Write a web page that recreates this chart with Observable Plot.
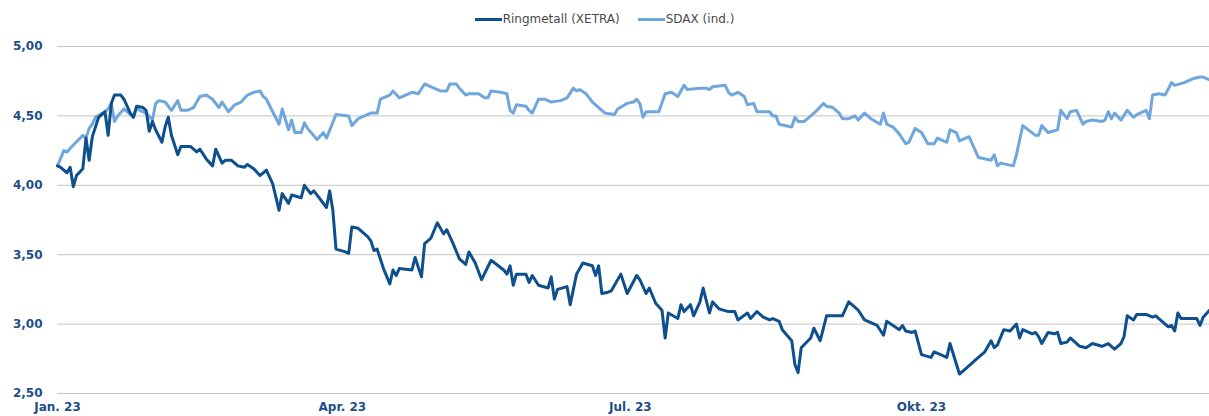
<!DOCTYPE html>
<html><head><meta charset="utf-8">
<script src="https://cdn.jsdelivr.net/npm/d3@7"></script>
<script src="https://cdn.jsdelivr.net/npm/@observablehq/plot@0.6"></script>
<style>
body{margin:0;background:#fff;font-family:"DejaVu Sans","Noto Sans",sans-serif;}
#legend{height:30px;display:flex;justify-content:center;align-items:center;gap:18px;font-size:12px;color:#4a4a4a;padding-top:8px;box-sizing:border-box}
.item{display:flex;align-items:center}
.sw{width:27px;height:3px;margin-right:1px}
#chart svg{display:block}
</style></head><body>
<div id="legend"></div>
<div id="chart"></div>
<script>
const year = 2023;
const seriesNames = ["Ringmetall (XETRA)", "SDAX (ind.)"];
const seriesColors = ["#0e4f8d", "#6fa7dc"];
const yTicks = [2.5, 3, 3.5, 4, 4.5, 5];
const xTickDates = ["01-01", "04-01", "07-01", "10-01"];
const xTickLabels = ["Jan. 23", "Apr. 23", "Jul. 23", "Okt. 23"];

const ringDates = ["01-01","01-02","01-04","01-05","01-06","01-07","01-09","01-10","01-11","01-12","01-14","01-16","01-17","01-18","01-19","01-21","01-22","01-24","01-25","01-26","01-28","01-29","01-30","01-31","02-01","02-03","02-04","02-05","02-06","02-08","02-09","02-12","02-14","02-15","02-17","02-19","02-20","02-22","02-23","02-25","02-27","03-01","03-02","03-04","03-06","03-08","03-10","03-12","03-13","03-15","03-16","03-19","03-20","03-22","03-23","03-27","03-28","03-29","03-30","04-02","04-03","04-04","04-06","04-09","04-10","04-11","04-12","04-14","04-16","04-17","04-18","04-19","04-23","04-24","04-26","04-27","04-29","05-01","05-03","05-04","05-06","05-08","05-10","05-11","05-13","05-15","05-18","05-22","05-23","05-24","05-25","05-26","05-29","05-30","05-31","06-02","06-05","06-06","06-07","06-08","06-11","06-12","06-14","06-16","06-19","06-20","06-21","06-22","06-24","06-25","06-28","06-30","07-03","07-04","07-06","07-07","07-09","07-11","07-12","07-13","07-16","07-17","07-18","07-20","07-21","07-23","07-24","07-26","07-27","07-29","08-01","08-03","08-04","08-07","08-08","08-10","08-12","08-14","08-15","08-17","08-18","08-21","08-22","08-23","08-24","08-27","08-28","08-30","09-01","09-06","09-08","09-11","09-13","09-17","09-19","09-20","09-24","09-25","09-26","09-28","09-29","10-01","10-04","10-05","10-09","10-10","10-13","10-15","10-18","10-19","10-21","10-23","10-24","10-25","10-27","10-29","10-31","11-01","11-02","11-05","11-06","11-07","11-08","11-10","11-12","11-13","11-14","11-16","11-17","11-20","11-22","11-24","11-27","11-29","12-01","12-03","12-04","12-05","12-07","12-08","12-11","12-13","12-14","12-18","12-19","12-20","12-21","12-22","12-27","12-28","12-29","12-31"];
const ringValues = [4.14,4.13,4.09,4.13,3.99,4.07,4.12,4.34,4.18,4.35,4.49,4.53,4.36,4.59,4.65,4.65,4.62,4.52,4.49,4.57,4.56,4.54,4.39,4.46,4.40,4.31,4.42,4.49,4.36,4.22,4.28,4.28,4.24,4.26,4.19,4.14,4.26,4.16,4.18,4.18,4.14,4.13,4.15,4.12,4.07,4.11,4.01,3.82,3.94,3.87,3.93,3.91,4.00,3.94,3.96,3.84,3.96,3.82,3.54,3.52,3.51,3.70,3.69,3.63,3.60,3.53,3.54,3.40,3.29,3.39,3.35,3.40,3.39,3.48,3.34,3.58,3.62,3.73,3.65,3.68,3.58,3.47,3.43,3.52,3.44,3.32,3.46,3.39,3.36,3.42,3.28,3.36,3.36,3.30,3.35,3.28,3.26,3.34,3.18,3.25,3.27,3.14,3.36,3.44,3.42,3.35,3.42,3.22,3.23,3.24,3.36,3.22,3.35,3.32,3.22,3.26,3.15,3.10,2.90,3.08,3.04,3.14,3.09,3.14,3.06,3.16,3.26,3.08,3.16,3.11,3.09,3.09,3.03,3.08,3.04,3.09,3.05,3.03,3.04,3.02,2.96,2.88,2.71,2.65,2.83,2.90,2.97,2.88,3.06,3.06,3.16,3.10,3.03,2.99,2.92,3.02,2.96,2.99,2.95,2.94,2.95,2.78,2.76,2.80,2.76,2.86,2.64,2.68,2.74,2.76,2.80,2.88,2.83,2.85,2.96,2.95,3.00,2.90,2.96,2.93,2.94,2.91,2.86,2.94,2.93,2.94,2.86,2.87,2.90,2.84,2.83,2.86,2.84,2.86,2.82,2.86,2.91,3.06,3.03,3.07,3.07,3.05,3.06,2.98,2.99,2.95,3.08,3.04,3.04,2.99,3.05,3.10];

const sdaxDates = ["01-01","01-03","01-04","01-06","01-09","01-10","01-11","01-12","01-13","01-16","01-17","01-18","01-19","01-20","01-22","01-25","01-26","01-27","01-29","01-31","02-01","02-02","02-04","02-06","02-08","02-09","02-11","02-13","02-15","02-17","02-19","02-21","02-22","02-24","02-26","02-28","03-02","03-04","03-06","03-07","03-08","03-10","03-12","03-13","03-15","03-16","03-17","03-19","03-20","03-21","03-24","03-26","03-27","03-30","04-03","04-04","04-06","04-08","04-10","04-12","04-13","04-16","04-17","04-19","04-21","04-23","04-25","04-27","04-29","05-02","05-04","05-05","05-07","05-08","05-10","05-11","05-14","05-16","05-17","05-18","05-21","05-23","05-24","05-25","05-26","05-29","05-30","05-31","06-02","06-04","06-06","06-09","06-11","06-13","06-14","06-15","06-17","06-19","06-21","06-23","06-26","06-27","06-30","07-02","07-03","07-04","07-05","07-06","07-10","07-12","07-14","07-16","07-18","07-19","07-23","07-25","07-26","07-27","07-31","08-01","08-02","08-04","08-06","08-07","08-09","08-10","08-14","08-15","08-16","08-17","08-21","08-22","08-23","08-25","08-27","08-29","08-31","09-01","09-03","09-05","09-06","09-08","09-10","09-11","09-13","09-15","09-18","09-19","09-20","09-22","09-24","09-26","09-27","09-29","10-01","10-03","10-05","10-06","10-09","10-10","10-12","10-13","10-16","10-19","10-23","10-24","10-25","10-26","10-30","10-31","11-02","11-06","11-07","11-08","11-10","11-13","11-14","11-16","11-17","11-19","11-21","11-22","11-24","11-27","11-28","11-29","11-30","12-01","12-03","12-05","12-07","12-08","12-11","12-12","12-13","12-15","12-17","12-19","12-20","12-23","12-26","12-28","12-29","12-31"];
const sdaxValues = [4.14,4.25,4.24,4.29,4.36,4.34,4.41,4.44,4.49,4.53,4.55,4.59,4.46,4.50,4.55,4.49,4.56,4.54,4.52,4.47,4.59,4.61,4.60,4.54,4.61,4.54,4.54,4.56,4.64,4.65,4.62,4.56,4.60,4.53,4.58,4.60,4.65,4.67,4.68,4.64,4.62,4.53,4.44,4.55,4.40,4.47,4.38,4.38,4.45,4.41,4.33,4.38,4.34,4.51,4.50,4.43,4.48,4.50,4.52,4.52,4.62,4.65,4.68,4.63,4.65,4.67,4.66,4.73,4.71,4.68,4.68,4.73,4.73,4.70,4.65,4.66,4.66,4.63,4.63,4.68,4.67,4.66,4.54,4.52,4.58,4.57,4.54,4.52,4.62,4.62,4.60,4.61,4.63,4.70,4.68,4.69,4.66,4.60,4.56,4.52,4.51,4.55,4.59,4.60,4.62,4.59,4.49,4.53,4.53,4.66,4.67,4.64,4.72,4.69,4.70,4.70,4.69,4.71,4.72,4.67,4.65,4.67,4.64,4.58,4.59,4.53,4.53,4.50,4.50,4.44,4.42,4.49,4.46,4.46,4.50,4.54,4.59,4.57,4.56,4.52,4.48,4.48,4.50,4.47,4.52,4.48,4.44,4.52,4.44,4.42,4.37,4.30,4.31,4.41,4.38,4.30,4.30,4.34,4.31,4.40,4.38,4.32,4.35,4.20,4.18,4.22,4.14,4.16,4.14,4.22,4.43,4.36,4.36,4.43,4.38,4.40,4.54,4.48,4.53,4.54,4.44,4.46,4.47,4.46,4.47,4.53,4.48,4.52,4.47,4.54,4.49,4.51,4.54,4.48,4.65,4.66,4.65,4.74,4.72,4.74,4.77,4.78,4.78,4.76];

const parse = s => new Date(`${year}-${s}T00:00:00`);
const data = [
  ...sdaxDates.map((d, i) => ({date: parse(d), value: sdaxValues[i], series: seriesNames[1]})),
  ...ringDates.map((d, i) => ({date: parse(d), value: ringValues[i], series: seriesNames[0]}))
];

// legend
const legend = document.getElementById("legend");
seriesNames.forEach((n, i) => {
  const it = document.createElement("div"); it.className = "item";
  const sw = document.createElement("span"); sw.className = "sw"; sw.style.background = seriesColors[i];
  const tx = document.createElement("span"); tx.textContent = n;
  it.append(sw, tx); legend.append(it);
});

const axisColor = "#1d4f87";
const chart = Plot.plot({
  width: 1209,
  height: 386,
  marginTop: 16,
  marginBottom: 23,
  marginLeft: 57,
  marginRight: 0,
  style: {fontFamily: "'DejaVu Sans', 'Noto Sans', sans-serif", fontSize: "12px", color: axisColor, background: "#fff"},
  x: {type: "time", domain: [parse("01-01"), parse("12-31")], label: null},
  y: {domain: [2.5, 5], label: null},
  color: {domain: seriesNames, range: seriesColors},
  marks: [
    Plot.gridY(yTicks, {stroke: "#c4c4c4", strokeOpacity: 1, strokeWidth: 1}),
    Plot.axisY(yTicks, {label: null, tickSize: 0, tickPadding: 15, tickFormat: d => d.toFixed(2).replace(".", ","), fontWeight: 600, fontSize: 12}),
    Plot.axisX(xTickDates.map(parse), {label: null, tickSize: 0, tickPadding: 9, tickFormat: (d, i) => xTickLabels[i], fontWeight: 600, fontSize: 12}),
    Plot.lineY(data, {x: "date", y: "value", z: "series", stroke: "series", strokeWidth: 3, strokeLinejoin: "round", strokeLinecap: "round"})
  ]
});
document.getElementById("chart").append(chart);
</script>
</body></html>
